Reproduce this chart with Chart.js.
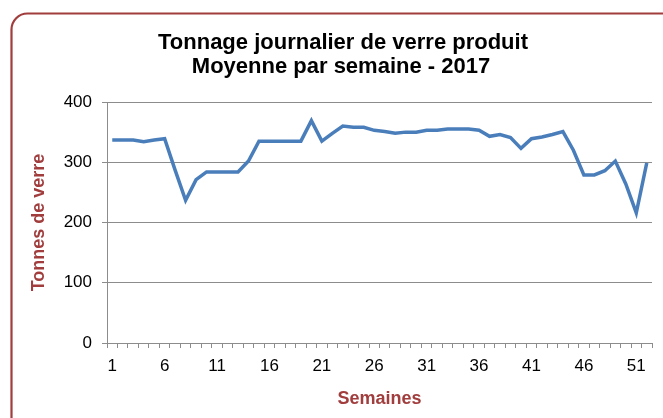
<!DOCTYPE html>
<html>
<head>
<meta charset="utf-8">
<script src="https://cdn.jsdelivr.net/npm/chart.js@4"></script>
<style>
    body { margin: 0; background: #ffffff; }
    canvas { display: block; }
</style>
</head>
<body>
<canvas id="chart" width="663" height="418"></canvas>
<script>
const TITLE_LINES = ["Tonnage journalier de verre produit", "Moyenne par semaine - 2017"];
const X_TITLE = "Semaines";
const Y_TITLE = "Tonnes de verre";

const weeks = [];
for (let i = 1; i <= 52; i++) weeks.push(String(i));

// tonnes par jour, moyenne de chaque semaine
const tonnage = [
    337, 337, 337, 334, 337, 339, 287, 237, 271, 284,
    284, 284, 284, 302, 335, 335, 335, 335, 335, 369,
    335, 348, 360, 358, 358, 353, 351, 348, 350, 350,
    353, 353, 355, 355, 355, 353, 343, 346, 341, 323,
    339, 342, 346, 351, 320, 279, 279, 286, 302, 264,
    216, 299
];

const yTicks = [0, 100, 200, 300, 400];

const LINE_COLOR = "#4a7ebb";
const AXIS_COLOR = "#8c8c8c";
const TITLE_RED = "#a13d3d";
const FONT = "'Liberation Sans', Arial, sans-serif";

// Cadre arrondi + titre
const framePlugin = {
    id: "frameAndTitle",
    beforeDraw(chart) {
        const ctx = chart.ctx;
        ctx.save();
        ctx.fillStyle = "#ffffff";
        ctx.fillRect(0, 0, chart.width, chart.height);
        ctx.strokeStyle = TITLE_RED;
        ctx.lineWidth = 2.2;
        ctx.beginPath();
        ctx.roundRect(11.5, 13.5, 680, 430, 16);
        ctx.stroke();
        ctx.restore();
    },
    afterDraw(chart) {
        const ctx = chart.ctx;
        ctx.save();
        ctx.fillStyle = "#000000";
        ctx.font = "bold 22px " + FONT;
        ctx.textAlign = "center";
        ctx.textBaseline = "alphabetic";
        ctx.fillText(TITLE_LINES[0], 343, 49);
        ctx.fillText(TITLE_LINES[1], 341, 73);
        ctx.restore();
    }
};

new Chart(document.getElementById("chart"), {
    type: "line",
    data: {
        labels: weeks,
        datasets: [{
            data: tonnage,
            borderColor: LINE_COLOR,
            borderWidth: 3.5,
            pointRadius: 0,
            tension: 0,
            fill: false
        }]
    },
    options: {
        responsive: false,
        animation: false,
        layout: {
            padding: { left: 20, right: 11, top: 102, bottom: 8 }
        },
        plugins: {
            legend: { display: false },
            tooltip: { enabled: false },
            title: { display: false }
        },
        scales: {
            x: {
                type: "category",
                offset: true,
                grid: {
                    display: true,
                    offset: true,
                    drawOnChartArea: false,
                    drawTicks: true,
                    tickLength: 5,
                    color: AXIS_COLOR
                },
                border: { display: true, color: AXIS_COLOR, width: 1 },
                ticks: {
                    autoSkip: false,
                    maxRotation: 0,
                    padding: 8,
                    color: "#000000",
                    font: { family: FONT, size: 17 },
                    callback: function (value, index) {
                        return index % 5 === 0 ? weeks[index] : "";
                    }
                },
                title: {
                    display: true,
                    text: X_TITLE,
                    color: TITLE_RED,
                    font: { family: FONT, size: 18, weight: "bold" },
                    padding: { top: 0, bottom: 0 }
                },
                afterFit: function (scale) { scale.height = 67; }
            },
            y: {
                min: 0,
                max: 400,
                afterBuildTicks: function (scale) {
                    scale.ticks = yTicks.map(v => ({ value: v }));
                },
                grid: {
                    color: AXIS_COLOR,
                    tickLength: 5
                },
                border: { display: true, color: AXIS_COLOR, width: 1 },
                ticks: {
                    padding: 10,
                    color: "#000000",
                    font: { family: FONT, size: 17 }
                },
                title: {
                    display: true,
                    text: Y_TITLE,
                    color: TITLE_RED,
                    font: { family: FONT, size: 18, weight: "bold" },
                    padding: { top: 8, bottom: 0 }
                },
                afterFit: function (scale) { scale.width = 87; }
            }
        }
    },
    plugins: [framePlugin]
});
</script>
</body>
</html>
